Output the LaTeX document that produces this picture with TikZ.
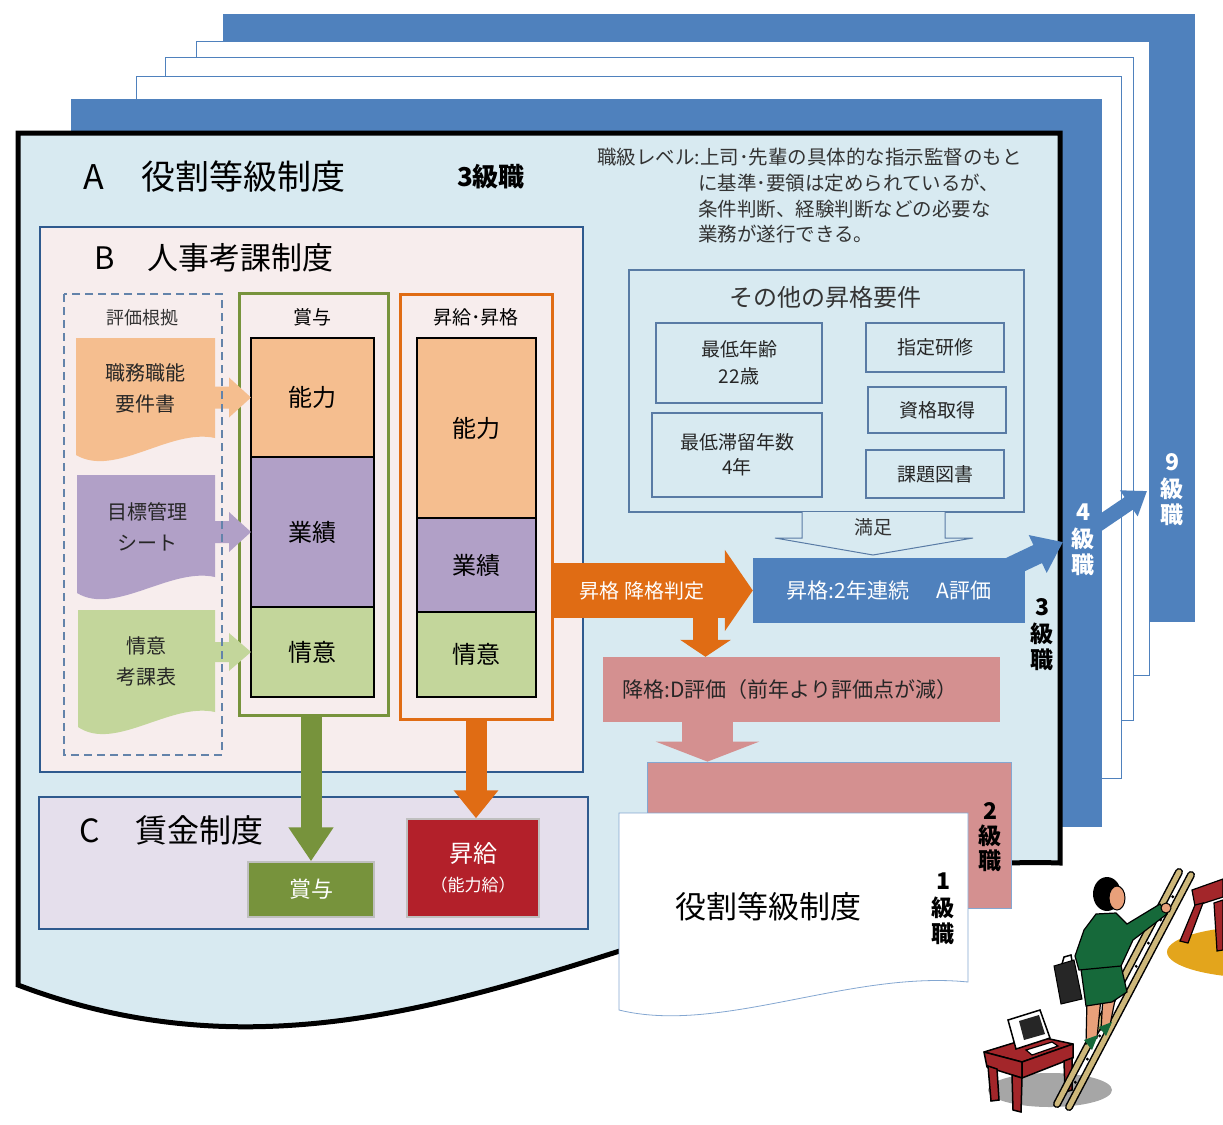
\documentclass[tikz,border=0pt]{standalone}
\usepackage{fontspec}
\setmainfont{Noto Sans CJK JP}
\usetikzlibrary{arrows.meta,positioning,calc}

\definecolor{gradeblue}{HTML}{4F81BD}
\definecolor{sheetblue}{HTML}{D8EAF1}
\definecolor{lineblue}{HTML}{2F5A8E}
\definecolor{reviewbg}{HTML}{F7EDED}
\definecolor{wagebg}{HTML}{E5DFEC}
\definecolor{ability}{HTML}{F5BE8F}
\definecolor{results}{HTML}{B1A0C7}
\definecolor{attitude}{HTML}{C3D69B}
\definecolor{bonusgreen}{HTML}{77933C}
\definecolor{raiseorange}{HTML}{E06C14}
\definecolor{demotepink}{HTML}{D49090}
\definecolor{raisered}{HTML}{B3202A}
\definecolor{deskred}{HTML}{A3262A}
\definecolor{suitgreen}{HTML}{16693A}
\definecolor{skin}{HTML}{E9A07A}
\definecolor{ladderwood}{HTML}{CDB77A}
\definecolor{rug}{HTML}{E3A51C}

\newcommand{\jp}[2]{\fontsize{#1}{#2}\selectfont}

\begin{document}
\begin{tikzpicture}[x=1pt,y=-1pt,>=stealth,
  stack/.style={draw=black, line width=2.2pt, outer sep=0pt, inner sep=0pt,
    minimum width=123pt, font=\jp{24}{28}},
  req/.style={draw=lineblue!80, line width=1.2pt, inner sep=0pt,
    font=\jp{19}{27}, align=center, text=black!85},
  vlabel/.style={align=center, inner sep=0pt, font=\jp{23}{26.5}\bfseries},
  docline/.style={align=center, font=\jp{20}{31}, text=black!85}]
\useasboundingbox (0,0) rectangle (1223,1124);

% sheets for the higher grades
\fill[gradeblue] (223,14) rectangle (1195,622);
\filldraw[fill=white, draw=gradeblue, line width=1pt] (196,42) rectangle (1149,675);
\filldraw[fill=white, draw=gradeblue, line width=1pt] (165,58) rectangle (1133,720);
\filldraw[fill=white, draw=gradeblue, line width=1pt] (136,76) rectangle (1121,778);
\fill[gradeblue] (71,99) rectangle (1102,827);

\node[vlabel, text=white] (grade9) at (1172,490) {9\\級\\職};
\node[vlabel, text=white] (grade4) at (1083,540) {4\\級\\職};

\coordinate (fromGrade4) at (1094,527);
\coordinate (toGrade9) at (1147,491);
\draw[gradeblue, line width=15pt, -{Triangle[width=30pt,length=22pt]}] (fromGrade4) -- (toGrade9);

% grade 3 sheet
\filldraw[fill=sheetblue, draw=black, line width=5pt, line join=miter]
  (18,133) -- (1060,133) -- (1060,863) .. controls (700,850) and (400,1130) .. (18,985) -- cycle;

\node[anchor=west, font=\jp{34}{40}] (titleA) at (80,177) {A\hspace{1.1em}役割等級制度};
\node[font=\jp{26}{30}\bfseries] (grade3top) at (491,177) {3級職};
\node[anchor=north west, align=left, inner sep=0pt, font=\jp{19.5}{25.7}, text=black!80] (levelText) at (597,148)
  {職級レベル:上司･先輩の具体的な指示監督のもと\\
   \hspace*{101pt}に基準･要領は定められているが、\\
   \hspace*{101pt}条件判断、経験判断などの必要な\\
   \hspace*{101pt}業務が遂行できる。};

% B: appraisal system
\filldraw[fill=reviewbg, draw=lineblue, line width=2.5pt] (40,227) rectangle (583,772);
\node[anchor=west, font=\jp{31}{36}] (titleB) at (91,258) {B\hspace{1.05em}人事考課制度};

% source documents
\fill[ability] (76,338) -- (215,338) -- (215,438) .. controls (170,428) and (115,478) .. (76,455) -- cycle;
\fill[results] (77,475) -- (215,475) -- (215,577) .. controls (170,567) and (115,616) .. (77,593) -- cycle;
\fill[attitude] (78,610) -- (215,610) -- (215,712) .. controls (170,702) and (115,752) .. (78,727) -- cycle;
\node[docline] (jobDoc) at (145,388) {職務職能\\要件書};
\node[docline] (mboDoc) at (147,527) {目標管理\\シート};
\node[docline] (attDoc) at (146,661) {情意\\考課表};

\node[draw=bonusgreen, fill=reviewbg, line width=3pt, minimum width=149pt, minimum height=422pt] (bonusFrame) at (313.5,504) {};
\node[font=\jp{19}{22}] (bonusHead) at (312,317) {賞与};
\node[draw=raiseorange, fill=reviewbg, line width=3pt, minimum width=152pt, minimum height=425pt] (raiseFrame) at (476,506.5) {};
\node[font=\jp{19}{22}] (raiseHead) at (476,317) {昇給･昇格};

\node[stack, fill=ability, minimum height=119pt] (bAbility) at (312.5,397.5) {能力};
\node[stack, fill=results, minimum height=150pt, below=0pt of bAbility] (bResults) {業績};
\node[stack, fill=attitude, minimum height=90pt, below=0pt of bResults] (bAttitude) {情意};

\node[stack, fill=ability, minimum width=119pt, minimum height=180pt] (rAbility) at (476.5,428) {能力};
\node[stack, fill=results, minimum width=119pt, minimum height=94pt, below=0pt of rAbility] (rResults) {業績};
\node[stack, fill=attitude, minimum width=119pt, minimum height=85pt, below=0pt of rResults] (rAttitude) {情意};

% documents feed the bonus column
\fill[ability] (bAbility.west) -- ++(-22,-20) -- ++(0,9) -- ++(-15,0) -- ++(0,22) -- ++(15,0) -- ++(0,9) -- cycle;
\fill[results] (bResults.west) -- ++(-22,-20) -- ++(0,9) -- ++(-15,0) -- ++(0,22) -- ++(15,0) -- ++(0,9) -- cycle;
\fill[attitude] (bAttitude.west) -- ++(-22,-19) -- ++(0,9) -- ++(-15,0) -- ++(0,20) -- ++(15,0) -- ++(0,9) -- cycle;

\draw[lineblue!75, line width=1.6pt, dash pattern=on 8pt off 5pt] (64,294) rectangle (222,755);
\node[font=\jp{18}{20}, text=black!80] (basis) at (142,318) {評価根拠};

% other promotion requirements
\draw[lineblue!80, line width=1.2pt] (629,270) rectangle (1024,512);
\node[font=\jp{24}{28}, text=black!80] (reqHead) at (825,297) {その他の昇格要件};
\node[req, minimum width=166pt, minimum height=80pt] (minAge) at (739,363) {最低年齢\\22歳};
\node[req, minimum width=170pt, minimum height=84pt, font=\jp{19}{25}] (minStay) at (737,455) {最低滞留年数\\4年};
\node[req, minimum width=138pt, minimum height=49pt] (training) at (935,347.5) {指定研修};
\node[req, minimum width=138pt, minimum height=46pt] (license) at (937,410) {資格取得};
\node[req, minimum width=138pt, minimum height=48pt] (books) at (935,474) {課題図書};

\filldraw[fill=sheetblue, draw=lineblue!80, line width=1pt]
  (802,512) -- (802,538) -- (775,538) -- (873,555) -- (973,538) -- (945,538) -- (945,512);
\node[font=\jp{19}{22}, text=black!80] (satisfied) at (873,527) {満足};

% promotion / demotion
\node[fill=gradeblue, minimum width=272pt, minimum height=65pt, inner sep=0pt,
  font=\jp{21}{24}, text=white] (promote) at (889,590.5) {昇格:2年連続\hspace{1.3em}A評価};
\node[fill=demotepink, minimum width=397pt, minimum height=65pt, inner sep=0pt, text width=357pt, align=left,
  font=\jp{21}{24}, text=black!85] (demote) at (801,689.5) {降格:D評価（前年より評価点が減）};

\draw[raiseorange, line width=55pt, -{Triangle[width=80pt,length=28pt]}] (raiseFrame.east |- promote.west) -- (promote.west);
\node[font=\jp{20}{24}, text=white] (judge) at (642,591) {昇格 降格判定};
\coordinate (judgeDrop) at (705.5,612);
\draw[raiseorange, line width=25pt, -{Triangle[width=50pt,length=17pt]}] (judgeDrop) -- (judgeDrop |- demote.north);

\coordinate (toGrade4) at (1063,542);
\draw[gradeblue, line width=20pt, -{Triangle[width=40pt,length=28pt]}] ($(promote.north east)+(-25,14)$) -- (toGrade4);

\node[fill=demotepink, draw=gradeblue!70, line width=0.8pt, minimum width=364pt, minimum height=146pt] (grade2page) at (829,835) {};
\coordinate (demoteDrop) at (707.5,0);
\draw[demotepink, line width=51pt, -{Triangle[width=103pt,length=20pt]}] (demoteDrop |- demote.south) -- (demoteDrop |- grade2page.north);

\filldraw[fill=white, draw=gradeblue!70, line width=0.8pt]
  (619,813) -- (968,813) -- (968,982) .. controls (850,970) and (720,1035) .. (619,1010) -- cycle;
\node[font=\jp{31}{34}] (grade1title) at (768,907) {役割等級制度};

\node[vlabel] (grade3) at (1042,635) {3\\級\\職};
\node[vlabel, font=\jp{23}{25}\bfseries] (grade2) at (990,837) {2\\級\\職};
\node[vlabel] (grade1) at (943,909) {1\\級\\職};

% C: wage system
\filldraw[fill=wagebg, draw=lineblue, line width=2.2pt] (39,797) rectangle (588,929);
\node[anchor=west, font=\jp{32}{36}] (titleC) at (76,830) {C\hspace{1.1em}賃金制度};
\node[fill=bonusgreen, draw=black!25, line width=1.5pt, minimum width=126pt, minimum height=55pt,
  inner sep=0pt, font=\jp{22}{26}, text=white] (payBonus) at (311,889.5) {賞与};
\node[fill=raisered, draw=black!25, line width=1.5pt, minimum width=132pt, minimum height=98pt,
  inner sep=0pt, align=center, font=\jp{24}{29}, text=white] (payRaise) at (473,868) {昇給\\{\jp{17}{20}（能力給）}};

\draw[bonusgreen, line width=21pt, -{Triangle[width=43pt,length=34pt]}] (bonusFrame.south -| payBonus.north) -- (payBonus.north);
\draw[raiseorange, line width=21pt, -{Triangle[width=43pt,length=28pt]}] (raiseFrame.south) -- (raiseFrame.south |- payRaise.north);

% climber on the ladder
\fill[rug] (1262,952) ellipse [x radius=95pt, y radius=26pt];
\filldraw[fill=deskred, draw=black, line width=1.2pt] (1192,890) -- (1223,879) -- (1223,897) -- (1195,906) -- cycle;
\filldraw[fill=deskred, draw=black, line width=1.2pt] (1195,905) -- (1203,903) -- (1188,943) -- (1180,941) -- cycle;
\filldraw[fill=deskred, draw=black, line width=1.2pt] (1214,903) -- (1223,900) -- (1223,950) -- (1217,951) -- cycle;

\fill[black!35] (1050,1090) ellipse [x radius=62pt, y radius=17pt];
\filldraw[fill=deskred, draw=black, line width=1.5pt, line join=round] (984,1052) -- (1036,1036) -- (1073,1044) -- (1022,1062) -- cycle;
\filldraw[fill=deskred, draw=black, line width=1.5pt, line join=round] (984,1052) -- (1022,1062) -- (1022,1078) -- (987,1067) -- cycle;
\filldraw[fill=deskred, draw=black, line width=1.5pt, line join=round] (1022,1062) -- (1073,1044) -- (1073,1058) -- (1022,1078) -- cycle;
\filldraw[fill=deskred, draw=black, line width=1.5pt] (988,1066) -- (997,1069) -- (999,1100) -- (991,1101) -- cycle;
\filldraw[fill=deskred, draw=black, line width=1.5pt] (1012,1075) -- (1022,1078) -- (1021,1112) -- (1013,1110) -- cycle;
\filldraw[fill=deskred, draw=black, line width=1.5pt] (1064,1061) -- (1072,1058) -- (1072,1090) -- (1065,1092) -- cycle;

\filldraw[fill=white, draw=black, line width=1.5pt] (1008,1020) -- (1040,1010) -- (1050,1038) -- (1016,1049) -- cycle;
\fill[black!85] (1019,1021) -- (1039,1015) -- (1045,1034) -- (1024,1040) -- cycle;
\filldraw[fill=white, draw=black, line width=1.2pt] (1026,1050) -- (1052,1042) -- (1058,1046) -- (1032,1055) -- cycle;

\draw[black, line width=8pt, line cap=round] (1057,1104) -- (1179,872);
\draw[ladderwood, line width=5pt, line cap=round] (1057,1104) -- (1179,872);
\draw[black, line width=8pt, line cap=round] (1069,1107) -- (1191,875);
\draw[ladderwood, line width=5pt, line cap=round] (1069,1107) -- (1191,875);
\foreach \t in {0.1,0.2,...,0.9}
  \fill[black] ($(1063,1105.5)!\t!(1185,873.5)$) circle (1.6pt);

\filldraw[fill=black!85, draw=black, line width=1pt] (1054,966) -- (1074,960) -- (1082,999) -- (1061,1004) -- cycle;
\draw[black, line width=1.5pt] (1062,964) -- (1064,957) -- (1071,955) -- (1072,961);
\filldraw[fill=skin, draw=black, line width=1.2pt] (1087,998) -- (1101,998) -- (1097,1038) -- (1086,1044) -- cycle;
\filldraw[fill=skin, draw=black, line width=1.2pt] (1103,995) -- (1117,990) -- (1110,1025) -- (1101,1030) -- cycle;
\fill[suitgreen] (1084,1040) -- (1098,1035) -- (1092,1050) -- cycle;
\fill[suitgreen] (1099,1027) -- (1112,1022) -- (1106,1036) -- cycle;
\filldraw[fill=suitgreen, draw=black, line width=1.2pt] (1080,962) -- (1119,957) -- (1127,992) -- (1112,1002) -- (1086,1006) -- cycle;
\filldraw[fill=suitgreen, draw=black, line width=1.2pt] (1096,914) -- (1116,913) -- (1127,924) -- (1160,904) -- (1167,914) -- (1133,940) -- (1121,966) -- (1079,970) -- (1075,956) -- (1084,930) -- cycle;
\filldraw[fill=skin, draw=black, line width=1pt] (1166,908) circle (5pt);
\fill[black] (1107,894) ellipse [x radius=14pt, y radius=17pt];
\filldraw[fill=skin, draw=black, line width=1pt] (1117,898) ellipse [x radius=8pt, y radius=12pt];
\end{tikzpicture}
\end{document}
